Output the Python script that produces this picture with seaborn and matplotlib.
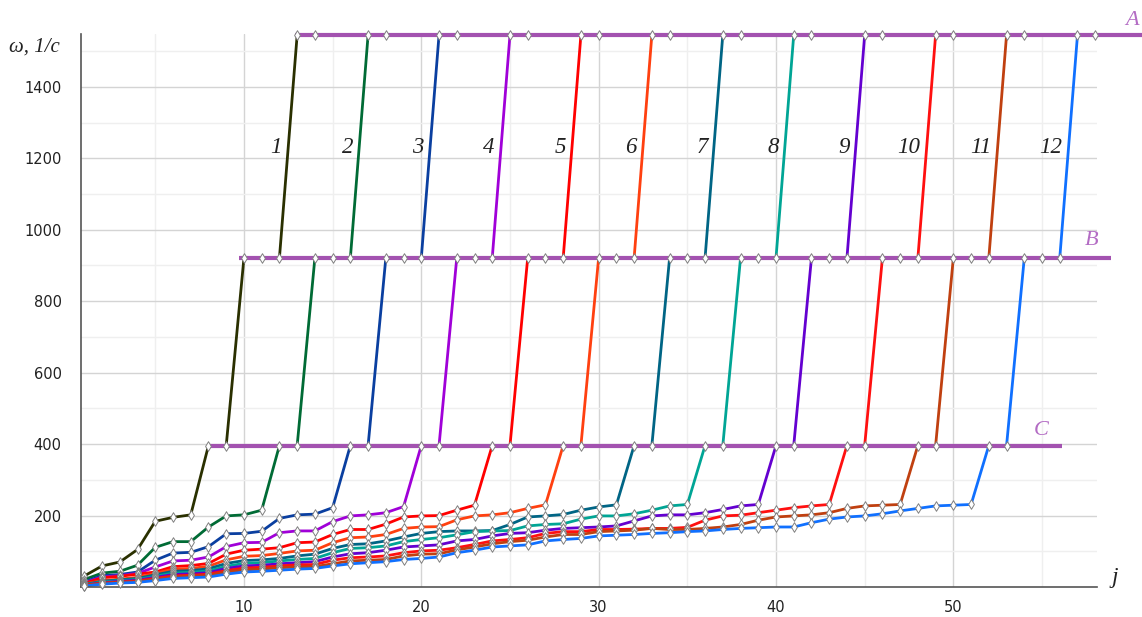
import numpy as np
import seaborn as sns
import pandas as pd
from matplotlib import pyplot as plt
from matplotlib.ticker import MultipleLocator

# levels of the three horizontal limits
LEVEL_A = 1545
LEVEL_B = 921
LEVEL_C = 396

# gradual part of every curve, starting at j = 1
omega_1 = [31, 59, 70, 105, 184, 195, 202]
omega_2 = [21, 39, 44, 61, 111, 127, 127, 168, 199, 202, 215]
omega_3 = [14, 32, 35, 42, 75, 95, 97, 113, 149, 150, 156, 192, 202, 204, 222]
omega_4 = [12, 28, 32, 38, 56, 73, 75, 84, 113, 124, 125, 152, 157, 157, 183,
           199, 202, 208, 225]
omega_5 = [10, 26, 30, 36, 42, 57, 60, 66, 92, 103, 106, 110, 124, 126, 147,
           161, 161, 176, 196, 199, 200, 215, 229]
omega_6 = [8, 18, 22, 27, 38, 50, 52, 58, 76, 86, 88, 94, 101, 103, 124, 138,
           140, 147, 164, 168, 169, 188, 199, 202, 208, 220, 230]
omega_7 = [7, 16, 20, 24, 34, 44, 46, 51, 66, 74, 76, 80, 87, 92, 108, 119,
           121, 129, 140, 150, 155, 157, 157, 158, 175, 196, 199, 203, 215,
           224, 230]
omega_8 = [6, 14, 18, 21, 30, 39, 41, 45, 58, 66, 68, 73, 77, 80, 96, 108,
           110, 115, 127, 133, 138, 146, 155, 157, 158, 171, 175, 177, 190,
           199, 199, 205, 215, 227, 231]
omega_9 = [5, 12, 16, 19, 27, 35, 37, 40, 52, 59, 61, 65, 68, 71, 84, 93, 96,
           103, 112, 115, 118, 129, 133, 143, 150, 152, 159, 164, 166, 168,
           171, 185, 199, 202, 202, 208, 217, 227, 231]
omega_10 = [5, 11, 14, 17, 24, 31, 33, 36, 46, 53, 55, 59, 62, 63, 75, 82, 84,
            87, 96, 101, 103, 110, 119, 129, 133, 138, 150, 155, 155, 161,
            161, 162, 164, 164, 167, 187, 199, 201, 208, 215, 222, 227, 231]
omega_11 = [4, 10, 13, 15, 21, 28, 30, 32, 42, 48, 50, 54, 56, 57, 65, 73, 75,
            77, 87, 92, 93, 104, 112, 121, 127, 131, 140, 147, 147, 155, 157,
            159, 164, 161, 161, 164, 168, 175, 187, 196, 199, 202, 208, 220,
            227, 229, 231]
omega_12 = [3, 8, 11, 13, 18, 24, 26, 28, 36, 42, 44, 47, 50, 52, 59, 65, 68,
            71, 77, 80, 84, 96, 103, 112, 115, 118, 129, 133, 136, 143, 145,
            147, 150, 152, 155, 157, 161, 164, 166, 168, 168, 180, 190, 196,
            199, 205, 213, 220, 227, 229, 231]

gradual = [omega_1, omega_2, omega_3, omega_4, omega_5, omega_6,
           omega_7, omega_8, omega_9, omega_10, omega_11, omega_12]
curve_names = [str(k) for k in range(1, 13)]
colors = ['#2a3000', '#006b35', '#0a3fa0', '#a000d8', '#ff0000', '#ff4010',
          '#006585', '#00a595', '#6400d0', '#ff1010', '#c04010', '#1070ff']

# after the gradual part: two points at C, three at B, two at A
tail = [LEVEL_C, LEVEL_C, LEVEL_B, LEVEL_B, LEVEL_B, LEVEL_A, LEVEL_A]

# horizontal limit lines: name, level, from j, to j
level_names = ['A', 'B', 'C']
level_values = [LEVEL_A, LEVEL_B, LEVEL_C]
level_start = [12.9, 9.7, 8.0]
level_end = [61.0, 58.9, 56.1]

rows = []
for name, vals in zip(curve_names, gradual):
    series = vals + tail
    for j, w in enumerate(series, start=1):
        rows.append({'j': j, 'omega': w, 'curve': name})
df = pd.DataFrame(rows)

sns.set_style("white")
plt.rcParams['font.family'] = ['DejaVu Sans']

fig = plt.figure(figsize=(11.42, 6.17), dpi=100)
ax = fig.add_axes([0.0709, 0.0486, 0.8897, 0.8964])

sns.lineplot(data=df, x='j', y='omega', hue='curve', palette=colors,
             hue_order=curve_names, estimator=None, sort=False, lw=2.0,
             legend=False, ax=ax, zorder=2, clip_on=False)

lvl_color = '#a352b0'
for name, val, x0, x1 in zip(level_names, level_values, level_start, level_end):
    ax.hlines(val, x0, x1, color=lvl_color, lw=3.0, zorder=3, clip_on=False)

sns.scatterplot(data=df, x='j', y='omega', marker='d', s=24, color='white',
                edgecolor='#808080', linewidth=0.7, zorder=4, legend=False,
                ax=ax, clip_on=False)

# curve numbers next to the B -> A jump
serif_it = dict(family='Liberation Serif', style='italic')
for name, vals in zip(curve_names, gradual):
    jump_mid = len(vals) + 5 + 0.5
    ax.text(jump_mid - 0.35, 1230, name, ha='right', va='center',
            fontsize=16.5, color='#222222', **serif_it)

lbl_color = '#b36cc4'
ax.text(60.05, 1585, 'A', ha='center', va='center', fontsize=16,
        color=lbl_color, clip_on=False, **serif_it)
ax.text(57.8, 969, 'B', ha='center', va='center', fontsize=16,
        color=lbl_color, **serif_it)
ax.text(54.96, 437, 'C', ha='center', va='center', fontsize=16,
        color=lbl_color, **serif_it)

ax.set_xlim(0.81, 58.1)
ax.set_ylim(0, 1548)

ax.xaxis.set_major_locator(MultipleLocator(10))
ax.xaxis.set_minor_locator(MultipleLocator(5))
ax.set_yticks([200, 400, 600, 800, 1000, 1200, 1400])
ax.set_yticks([100, 300, 500, 700, 900, 1100, 1300, 1500], minor=True)

ax.grid(which='major', color='#d4d4d4', lw=1.0)
ax.grid(which='minor', color='#efefef', lw=1.0)
ax.set_axisbelow(True)

for side in ['top', 'right']:
    ax.spines[side].set_visible(False)
for side in ['left', 'bottom']:
    ax.spines[side].set_color('#555555')
    ax.spines[side].set_linewidth(1.2)

ax.tick_params(axis='both', which='major', direction='out', length=6,
               width=1.0, color='#555555', labelsize=10.5, labelcolor='#222222')
ax.tick_params(axis='both', which='minor', direction='out', length=4,
               width=1.0, color='#555555')
ax.tick_params(axis='y', which='major', length=7, pad=7)

ax.set_xlabel('')
ax.set_ylabel('')
fig.text(9 / 1142, 1 - 47 / 617, 'ω, 1/c', ha='left', va='center',
         fontsize=15, color='#222222', **serif_it)
fig.text(1115 / 1142, 1 - 578 / 617, 'j', ha='center', va='center',
         fontsize=17, color='#222222', **serif_it)

fig.savefig('out.png', dpi=100)
